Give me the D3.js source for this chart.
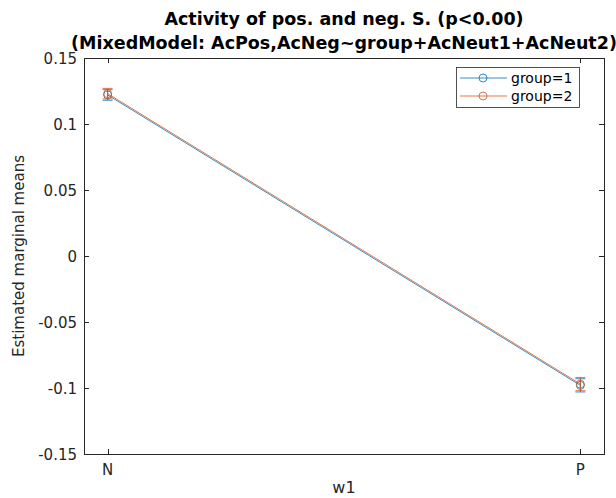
<!DOCTYPE html>
<html>
<head>
<meta charset="utf-8">
<script src="https://cdn.jsdelivr.net/npm/d3@7"></script>
<style>
  body { margin: 0; background: #fff; }
  svg { font-family: "DejaVu Sans", sans-serif; }
</style>
</head>
<body>
<div id="chart"></div>
<script>
// data
var categories = ['N', 'P'];
var groups = ['group=1', 'group=2'];
var means = [[0.122, -0.098], [0.123, -0.097]];
var errs = [[0.004, 0.005], [0.004, 0.005]];
var yTicks = [-0.15, -0.1, -0.05, 0, 0.05, 0.1, 0.15];
var colors = ['#0072BD', '#D95319'];

var width = 616, height = 498;
var pLeft = 84, pRight = 604, pTop = 58, pBottom = 454;

var svg = d3.select('#chart').append('svg')
    .attr('width', width).attr('height', height);

// categories sit at 1 and 2 with a little room either side
var x = d3.scaleLinear().domain([0.95, 2.05]).range([pLeft, pRight]);
var y = d3.scaleLinear().domain([-0.15, 0.15]).range([pBottom, pTop]);

var axisColor = '#262626';

// box
svg.append('rect')
    .attr('x', pLeft + 0.5).attr('y', pTop + 0.5)
    .attr('width', pRight - pLeft).attr('height', pBottom - pTop)
    .attr('fill', '#fff').attr('stroke', axisColor).attr('stroke-width', 1);

// y ticks (inside, both sides)
yTicks.forEach(function(t) {
    var yy = Math.round(y(t)) + 0.5;
    svg.append('line').attr('x1', pLeft).attr('x2', pLeft + 5)
        .attr('y1', yy).attr('y2', yy).attr('stroke', axisColor);
    svg.append('line').attr('x1', pRight - 5).attr('x2', pRight)
        .attr('y1', yy).attr('y2', yy).attr('stroke', axisColor);
    svg.append('text')
        .attr('x', pLeft - 7).attr('y', y(t) + 5.5)
        .attr('text-anchor', 'end')
        .attr('font-size', '15px').attr('fill', axisColor)
        .text(t);
});

// x ticks
categories.forEach(function(c, i) {
    var xx = Math.round(x(i + 1)) + 0.5;
    svg.append('line').attr('x1', xx).attr('x2', xx)
        .attr('y1', pBottom).attr('y2', pBottom - 5).attr('stroke', axisColor);
    svg.append('line').attr('x1', xx).attr('x2', xx)
        .attr('y1', pTop).attr('y2', pTop + 5).attr('stroke', axisColor);
    svg.append('text')
        .attr('x', x(i + 1)).attr('y', pBottom + 21)
        .attr('text-anchor', 'middle')
        .attr('font-size', '15px').attr('fill', axisColor)
        .text(c);
});

// series
var line = d3.line()
    .x(function(d, i) { return x(i + 1); })
    .y(function(d) { return y(d); });

groups.forEach(function(g, k) {
    var col = colors[k];
    svg.append('path').datum(means[k])
        .attr('d', line).attr('fill', 'none')
        .attr('stroke', col).attr('stroke-width', 0.8);

    means[k].forEach(function(m, i) {
        var cx = x(i + 1);
        var e = errs[k][i];
        svg.append('line').attr('x1', cx).attr('x2', cx)
            .attr('y1', y(m + e)).attr('y2', y(m - e))
            .attr('stroke', col).attr('stroke-width', 0.8);
        [m + e, m - e].forEach(function(v) {
            svg.append('line').attr('x1', cx - 5).attr('x2', cx + 5)
                .attr('y1', y(v)).attr('y2', y(v))
                .attr('stroke', col).attr('stroke-width', 0.8);
        });
        svg.append('circle').attr('cx', cx).attr('cy', y(m)).attr('r', 4)
            .attr('fill', 'none').attr('stroke', col).attr('stroke-width', 0.8);
    });
});

// legend
var lg = svg.append('g');
lg.append('rect').attr('x', 456.5).attr('y', 67.5)
    .attr('width', 123).attr('height', 40)
    .attr('fill', '#fff').attr('stroke', axisColor).attr('stroke-width', 0.8);
groups.forEach(function(g, k) {
    var ly = 78 + k * 18;
    lg.append('line').attr('x1', 460).attr('x2', 507)
        .attr('y1', ly).attr('y2', ly)
        .attr('stroke', colors[k]).attr('stroke-width', 0.8);
    lg.append('circle').attr('cx', 483).attr('cy', ly).attr('r', 4)
        .attr('fill', 'none').attr('stroke', colors[k]).attr('stroke-width', 0.8);
    lg.append('text').attr('x', 511).attr('y', ly + 5)
        .attr('font-size', '14px').attr('fill', '#000')
        .text(g);
});

// title
var midX = (pLeft + pRight) / 2;
svg.append('text').attr('x', midX).attr('y', 25)
    .attr('text-anchor', 'middle').attr('font-weight', 'bold')
    .attr('font-size', '17.5px').attr('fill', '#000')
    .text('Activity of pos. and neg. S. (p<0.00)');
svg.append('text').attr('x', midX).attr('y', 49)
    .attr('text-anchor', 'middle').attr('font-weight', 'bold')
    .attr('font-size', '17.5px').attr('fill', '#000')
    .text('(MixedModel: AcPos,AcNeg~group+AcNeut1+AcNeut2)');

// axis labels
svg.append('text').attr('x', midX).attr('y', 493)
    .attr('text-anchor', 'middle')
    .attr('font-size', '16px').attr('fill', axisColor)
    .text('w1');
svg.append('text')
    .attr('transform', 'translate(24,' + ((pTop + pBottom) / 2) + ') rotate(-90)')
    .attr('text-anchor', 'middle')
    .attr('font-size', '15px').attr('fill', axisColor)
    .text('Estimated marginal means');
</script>
</body>
</html>
